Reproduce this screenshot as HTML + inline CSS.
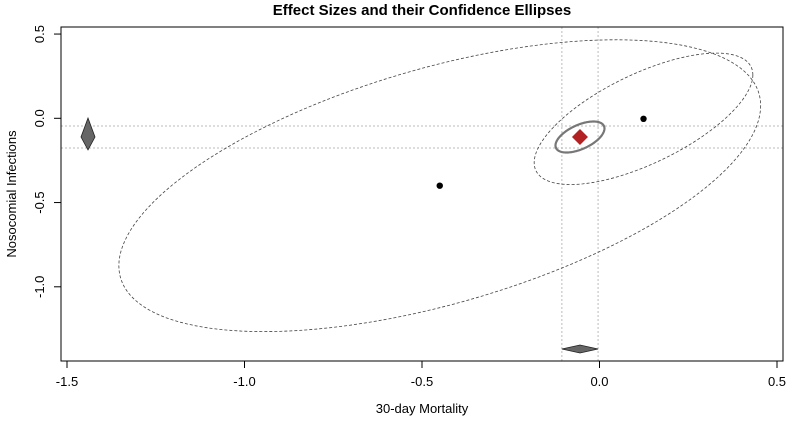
<!DOCTYPE html>
<html><head><meta charset="utf-8"><style>
body{margin:0;background:#fff;}
svg{display:block;font-family:"Liberation Sans",Arial,sans-serif;}
</style></head><body>
<svg id="chart" width="798" height="424"></svg>
<script>
const xTicks=[-1.5,-1.0,-0.5,0.0,0.5];
const yTicks=[0.5,0.0,-0.5,-1.0];
const studyX=[-0.45,0.124];
const studyY=[-0.40,-0.003];
const studyRx=[0.904,0.308];
const studyRy=[0.866,0.39];
const studyPhi=[0.99,0.84];
const pooled=[-0.055,-0.111];
const pooledR=[0.069,0.092,0.99];
const ciX=[-0.106,-0.004];
const ciY=[-0.046,-0.176];

const NS="http://www.w3.org/2000/svg";
const svg=document.getElementById('chart');
const X=v=>599.5+355*v;
const Y=v=>118.3-168.5*v;
function el(t,a,p){const e=document.createElementNS(NS,t);for(const k in a)e.setAttribute(k,a[k]);(p||svg).appendChild(e);return e;}
function ellPath(cx,cy,rx,ry,phi){let d='';for(let i=0;i<=160;i++){const t=i/160*2*Math.PI;const x=X(cx+rx*Math.cos(t));const y=Y(cy+ry*Math.cos(t+phi));d+=(i?'L':'M')+x.toFixed(2)+','+y.toFixed(2);}return d+'Z';}

let e=el('text',{x:422,y:15,'text-anchor':'middle','font-size':15,'font-weight':'bold'});
e.textContent='Effect Sizes and their Confidence Ellipses';



ciX.forEach(v=>{const l=el('line',{x1:X(v),x2:X(v),y1:27,y2:361,stroke:'#bbb','stroke-dasharray':'2,2'});

});
ciY.forEach(v=>{const l=el('line',{x1:61,x2:783,y1:Y(v),y2:Y(v),stroke:'#bbb','stroke-dasharray':'2,2'});

});

studyX.forEach((v,i)=>{
 const p=el('path',{d:ellPath(v,studyY[i],studyRx[i],studyRy[i],studyPhi[i]),fill:'none',stroke:'#444','stroke-width':0.8,'stroke-dasharray':'3,2'});
 
 
 const c=el('circle',{cx:X(v),cy:Y(studyY[i]),r:3.2,fill:'#000'});
 
 
});
e=el('path',{d:ellPath(pooled[0],pooled[1],pooledR[0],pooledR[1],pooledR[2]),fill:'none',stroke:'#777','stroke-width':2.2});


const px=X(pooled[0]),py=Y(pooled[1]);
e=el('polygon',{points:`${px},${py-8} ${px+8},${py} ${px},${py+8} ${px-8},${py}`,fill:'#b22222'});


const ym=(Y(ciY[0])+Y(ciY[1]))/2;
e=el('polygon',{points:`88,${Y(ciY[0])-8} 95,${ym} 88,${Y(ciY[1])+2} 81,${ym}`,fill:'#666',stroke:'#222','stroke-width':0.8});


const xm=(X(ciX[0])+X(ciX[1]))/2;
e=el('polygon',{points:`${X(ciX[0])},349 ${xm},345 ${X(ciX[1])},349 ${xm},353`,fill:'#666',stroke:'#222','stroke-width':0.8});



e=el('rect',{x:61,y:27,width:722,height:334,fill:'none',stroke:'#000','stroke-width':1});


xTicks.forEach(v=>{el('line',{x1:X(v),x2:X(v),y1:361,y2:368,stroke:'#000'});
 const t=el('text',{x:X(v),y:386,'text-anchor':'middle','font-size':13});t.textContent=v.toFixed(1);
 
 });
yTicks.forEach(v=>{el('line',{x1:54,x2:61,y1:Y(v),y2:Y(v),stroke:'#000'});
 const t=el('text',{x:44,y:Y(v),'text-anchor':'middle','font-size':13,transform:`rotate(-90 44 ${Y(v)})`});t.textContent=v.toFixed(1);
 
 });
e=el('text',{x:422,y:413,'text-anchor':'middle','font-size':13});e.textContent='30-day Mortality';


e=el('text',{x:16,y:194,'text-anchor':'middle','font-size':13,transform:'rotate(-90 16 194)'});e.textContent='Nosocomial Infections';


</script>
</body></html>
